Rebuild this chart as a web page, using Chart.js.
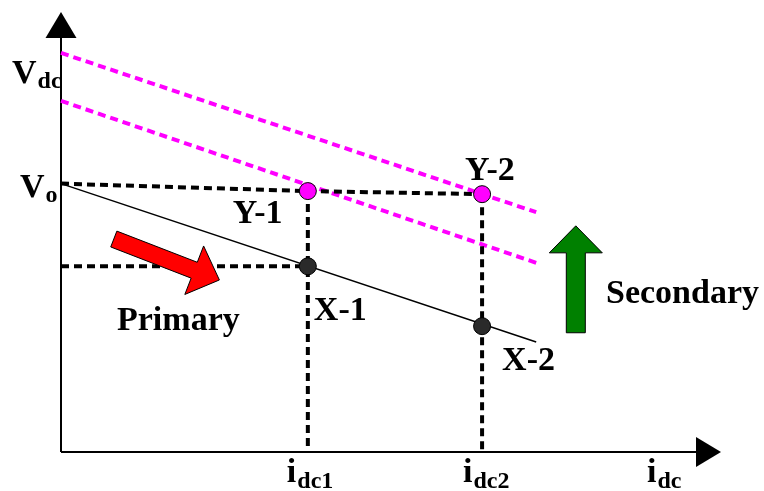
<!DOCTYPE html>
<html>
<head>
<meta charset="utf-8">
<script src="https://cdn.jsdelivr.net/npm/chart.js@4/dist/chart.umd.min.js"></script>
<style>
  html, body { margin: 0; padding: 0; background: #fff; }
  #wrap { width: 764px; height: 491px; }
</style>
</head>
<body>
<div id="wrap"><canvas id="vi" width="764" height="491"></canvas></div>
<script>
// operating points on the V-I plane (axis units 0..10)
const iDc = [3.74, 6.38];          // i_dc1, i_dc2
const lineEndX = 7.2;
const primaryV = [6.1, 2.5];       // droop line at x=0 and at lineEndX
const secondaryHighV = [9.07, 5.45];
const secondaryLowV = [7.98, 4.3];
const pointsY = [5.93, 5.86];      // Y-1, Y-2
const pointsX = [4.22, 2.86];      // X-1, X-2

const FONT = '"Liberation Serif", "Times New Roman", serif';

const dashBlack = {
  showLine: true, borderColor: "#000", borderWidth: 4, borderDash: [8, 5],
  borderCapStyle: "butt", pointRadius: 0, order: 3,
};
const dashMagenta = Object.assign({}, dashBlack, { borderColor: "#ff00ff", order: 4 });

// axes with arrow heads, the two block arrows and all the labels
const overlay = {
  id: "overlay",
  beforeDatasetsDraw(chart) {
    const { ctx, scales: { x, y } } = chart;
    const x0 = x.getPixelForValue(0), y0 = y.getPixelForValue(0);
    const xTip = x.getPixelForValue(10), yTip = y.getPixelForValue(10);
    ctx.save();
    ctx.strokeStyle = "#000";
    ctx.lineWidth = 2;
    ctx.beginPath();
    ctx.moveTo(x0, y0); ctx.lineTo(x0, yTip + 26);
    ctx.moveTo(x0, y0); ctx.lineTo(xTip - 25, y0);
    ctx.stroke();
    ctx.fillStyle = "#000";
    ctx.beginPath();
    ctx.moveTo(x0, yTip); ctx.lineTo(x0 + 15.5, yTip + 26); ctx.lineTo(x0 - 15.5, yTip + 26);
    ctx.closePath(); ctx.fill();
    ctx.beginPath();
    ctx.moveTo(xTip, y0); ctx.lineTo(xTip - 25, y0 - 15); ctx.lineTo(xTip - 25, y0 + 15);
    ctx.closePath(); ctx.fill();
    ctx.restore();
  },
  afterDatasetsDraw(chart) {
    const { ctx, scales: { x, y } } = chart;
    const px = v => x.getPixelForValue(v), py = v => y.getPixelForValue(v);

    blockArrow(ctx, px(0.8), py(4.84), px(2.4), py(3.91), 17, 52, 27, "#ff0000");
    blockArrow(ctx, px(7.8), py(2.71), px(7.8), py(5.14), 19, 53, 27, "#008000");

    label(ctx, "V", "dc", 12, 83, 5);
    label(ctx, "V", "o", 20, 197, 5);
    label(ctx, "i", "dc1", px(iDc[0]) - 21, 482, 6);
    label(ctx, "i", "dc2", px(iDc[1]) - 19, 482, 6);
    label(ctx, "i", "dc", 647, 482, 6);
    label(ctx, "Y-1", "", px(iDc[0]) - 75, 223, 0);
    label(ctx, "Y-2", "", px(iDc[1]) - 17, 180, 0);
    label(ctx, "X-1", "", px(iDc[0]) + 6, 320, 0);
    label(ctx, "X-2", "", px(iDc[1]) + 20, 370, 0);
    label(ctx, "Primary", "", 117, 330, 0);
    label(ctx, "Secondary", "", 606, 303, 0);
  },
};

function blockArrow(ctx, x1, y1, x2, y2, shaftW, headW, headL, fill) {
  const len = Math.hypot(x2 - x1, y2 - y1);
  const ux = (x2 - x1) / len, uy = (y2 - y1) / len;
  const nx = -uy, ny = ux;
  const bx = x2 - ux * headL, by = y2 - uy * headL;
  const s = shaftW / 2, h = headW / 2;
  ctx.save();
  ctx.beginPath();
  ctx.moveTo(x1 + nx * s, y1 + ny * s);
  ctx.lineTo(bx + nx * s, by + ny * s);
  ctx.lineTo(bx + nx * h, by + ny * h);
  ctx.lineTo(x2, y2);
  ctx.lineTo(bx - nx * h, by - ny * h);
  ctx.lineTo(bx - nx * s, by - ny * s);
  ctx.lineTo(x1 - nx * s, y1 - ny * s);
  ctx.closePath();
  ctx.fillStyle = fill;
  ctx.fill();
  ctx.strokeStyle = "#000";
  ctx.lineWidth = 1;
  ctx.stroke();
  ctx.restore();
}

function label(ctx, main, sub, left, baseline, drop) {
  ctx.save();
  ctx.fillStyle = "#000";
  ctx.textAlign = "left";
  ctx.textBaseline = "alphabetic";
  ctx.font = "bold 34px " + FONT;
  ctx.fillText(main, left, baseline);
  if (sub) {
    const w = ctx.measureText(main).width;
    ctx.font = "bold 24px " + FONT;
    ctx.fillText(sub, left + w + 1, baseline + drop);
  }
  ctx.restore();
}

new Chart(document.getElementById("vi"), {
  type: "scatter",
  data: {
    datasets: [
      { data: iDc.map((v, i) => ({ x: v, y: pointsY[i] })), pointRadius: 8.5,
        pointBackgroundColor: "#ff00ff", pointBorderColor: "#000", pointBorderWidth: 1, order: 0 },
      { data: iDc.map((v, i) => ({ x: v, y: pointsX[i] })), pointRadius: 8.5,
        pointBackgroundColor: "#2a2a2a", pointBorderColor: "#000", pointBorderWidth: 1, order: 1 },
      { data: [{ x: 0, y: primaryV[0] }, { x: lineEndX, y: primaryV[1] }], showLine: true,
        borderColor: "#000", borderWidth: 1.5, pointRadius: 0, order: 2 },
      Object.assign({ data: [{ x: 0, y: secondaryHighV[0] }, { x: lineEndX, y: secondaryHighV[1] }] }, dashMagenta),
      Object.assign({ data: [{ x: 0, y: secondaryLowV[0] }, { x: lineEndX, y: secondaryLowV[1] }] }, dashMagenta),
      Object.assign({ data: [{ x: 0, y: primaryV[0] }, { x: iDc[0], y: pointsY[0] }, { x: iDc[1], y: pointsY[1] }] }, dashBlack),
      Object.assign({ data: [{ x: 0, y: pointsX[0] }, { x: iDc[0], y: pointsX[0] }] }, dashBlack),
      Object.assign({ data: [{ x: iDc[0], y: pointsY[0] }, { x: iDc[0], y: 0 }] }, dashBlack),
      Object.assign({ data: [{ x: iDc[1], y: pointsY[1] }, { x: iDc[1], y: 0 }] }, dashBlack),
    ],
  },
  options: {
    responsive: false,
    animation: false,
    clip: false,
    layout: { padding: { left: 61, right: 43, top: 12, bottom: 39 } },
    scales: {
      x: { type: "linear", min: 0, max: 10, display: false },
      y: { type: "linear", min: 0, max: 10, display: false },
    },
    plugins: { legend: { display: false }, tooltip: { enabled: false } },
  },
  plugins: [overlay],
});
</script>
</body>
</html>
